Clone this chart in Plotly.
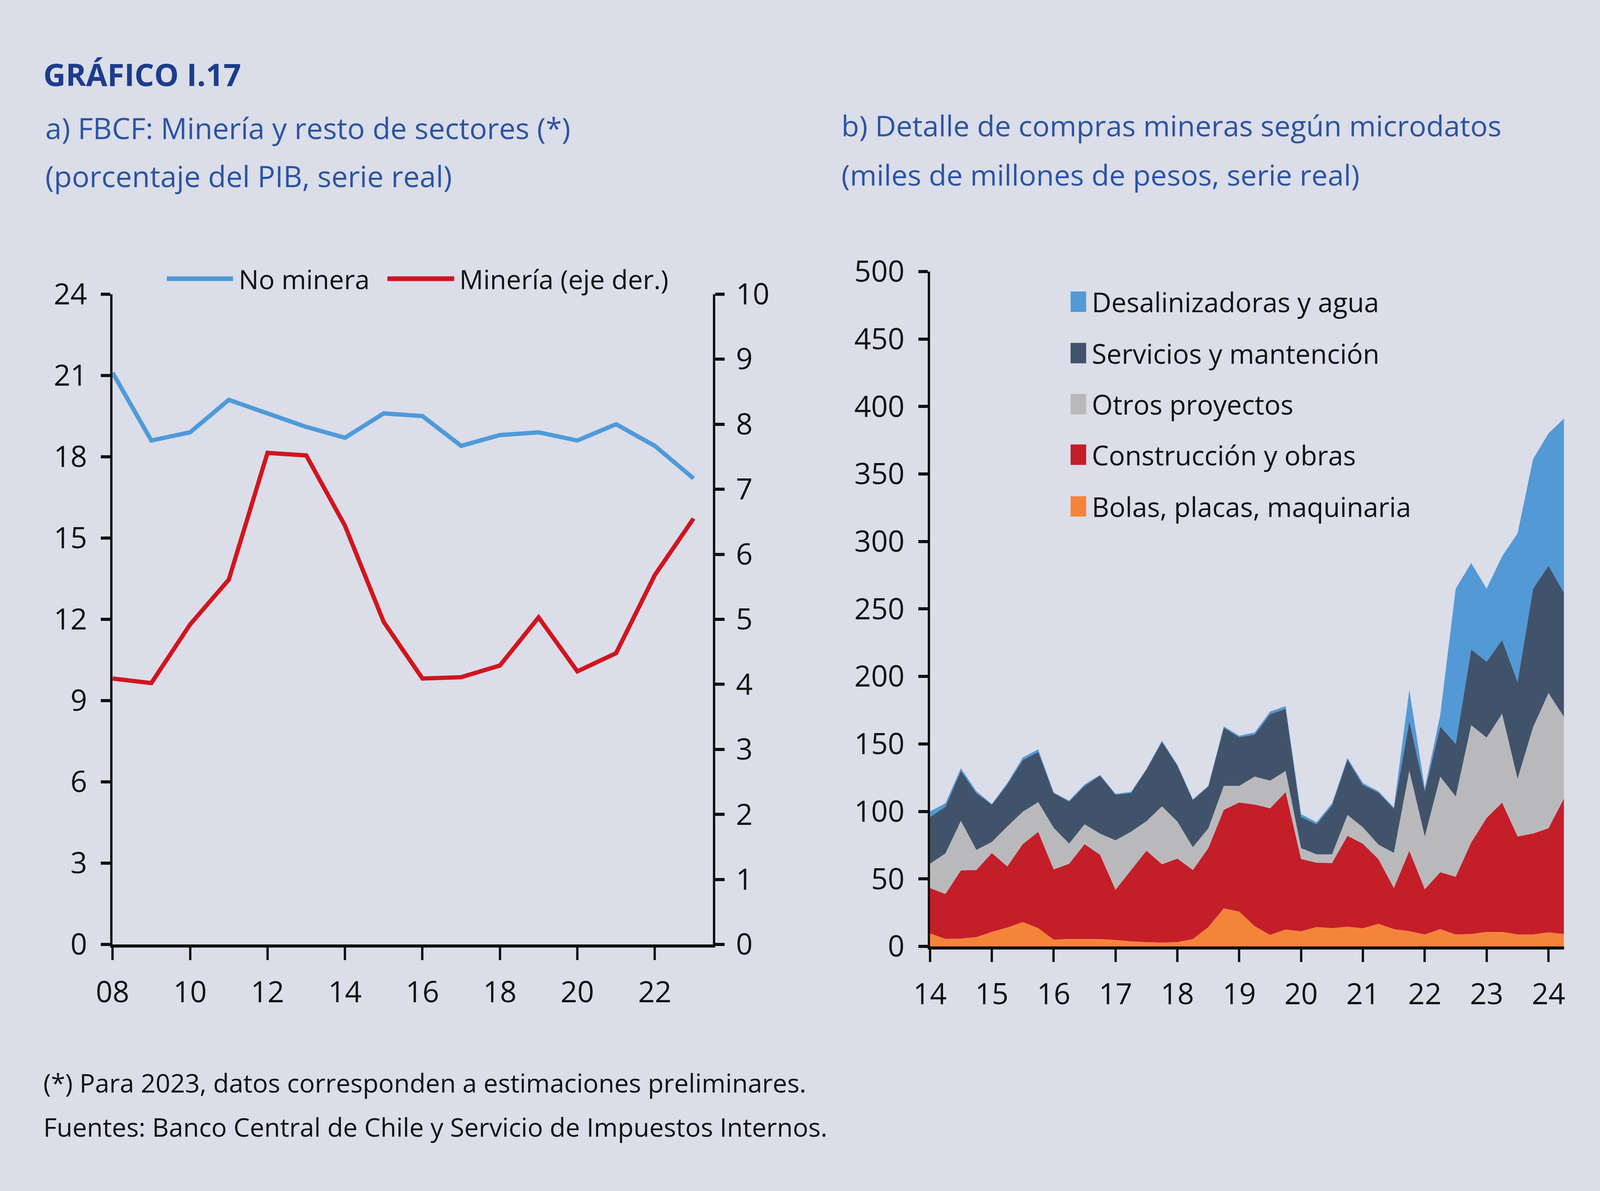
import plotly.graph_objects as go

# Reference geometry (positions given as fractions of the reference canvas)
RW, RH = 5400, 3048
W, H = 4096, 3048          # real browser viewport
BG = "#dbdde8"
FONT = "Open Sans"

# ---------------- Panel a data ----------------
years_a = list(range(2008, 2024))
no_minera = [21.1, 18.6, 18.9, 20.1, 19.6, 19.1, 18.7, 19.6, 19.5, 18.4, 18.8, 18.9, 18.6, 19.2, 18.4, 17.2]
mineria = [4.09, 4.02, 4.92, 5.61, 7.56, 7.52, 6.44, 4.96, 4.09, 4.11, 4.29, 5.03, 4.20, 4.48, 5.68, 6.55]
ticks_a_x = list(range(2008, 2023, 2))
ticks_a_left = list(range(0, 25, 3))
ticks_a_right = list(range(0, 11))

# ---------------- Panel b data ----------------
quarters = [f"{y}T{q}" for y in range(2014, 2025) for q in range(1, 5)][:42]
bolas = [9.7, 5.5, 5.8, 6.9, 10.8, 14.0, 18.0, 13.5, 5.0, 5.5, 5.5, 5.4, 4.8, 3.8, 3.2, 2.8, 3.2, 5.4, 14.3, 28.2,
         25.8, 15.0, 8.5, 12.5, 11.2, 14.3, 13.5, 14.6, 13.4, 16.8, 12.8, 11.3, 8.8, 12.8, 8.8, 9.2, 10.7, 10.7,
         8.8, 8.8, 10.4, 9.2]
construccion = [33.5, 33.4, 50.5, 49.7, 58.4, 45.2, 57.8, 71.3, 52.0, 55.7, 70.3, 62.4, 37.2, 52.8, 67.7, 58.1,
                61.9, 51.2, 58.5, 73.0, 80.8, 90.1, 93.8, 101.8, 53.6, 47.7, 48.2, 67.4, 62.6, 47.9, 30.5, 59.5,
                33.6, 42.1, 42.8, 67.7, 84.5, 95.8, 72.7, 74.8, 77.2, 100.4]
otros = [18.0, 30.0, 36.7, 14.9, 8.2, 29.7, 23.9, 22.1, 30.8, 15.0, 14.7, 15.7, 36.6, 28.4, 21.9, 42.9, 27.4, 16.9,
         14.6, 17.7, 12.3, 20.7, 20.5, 15.7, 8.0, 6.2, 6.5, 15.4, 12.2, 10.7, 26.0, 59.5, 39.1, 70.8, 59.5, 87.0,
         59.5, 65.9, 42.7, 78.7, 100.1, 60.4]
servicios = [34.6, 34.6, 37.0, 42.0, 27.6, 31.1, 38.3, 37.1, 25.7, 31.2, 28.4, 43.1, 33.9, 28.6, 38.2, 47.7, 41.5,
             35.0, 31.1, 43.1, 36.1, 31.2, 49.2, 46.0, 23.2, 22.3, 36.3, 41.1, 31.3, 38.6, 32.7, 36.7, 33.5, 37.3,
             38.9, 56.1, 56.3, 54.6, 71.8, 102.7, 94.3, 92.0]
desaliniz = [4.2, 2.5, 2.0, 1.5, 0.5, 1.0, 2.0, 2.0, 0.5, 0.6, 1.1, 0.4, 0.5, 0.9, 0.5, 1.0, 0.5, 0.5, 0.5, 1.0,
             1.0, 1.5, 2.0, 2.0, 2.0, 1.5, 1.5, 1.0, 1.5, 1.0, 1.0, 23.0, 2.0, 8.5, 115.0, 64.0, 54.0, 62.0,
             110.0, 96.0, 98.0, 129.0]
ticks_b_x = list(range(2014, 2025))
ticks_b_y = list(range(0, 501, 50))

x_b = [int(q[:4]) + (int(q[-1]) - 1) / 4 for q in quarters]

C_BLUE_LINE = "#4e9ad9"
C_RED_LINE = "#d0151f"
series_b = [
    ("Bolas, placas, maquinaria", bolas, "#f5843b"),
    ("Construcción y obras", construccion, "#c41e29"),
    ("Otros proyectos", otros, "#b9b9bb"),
    ("Servicios y mantención", servicios, "#41536b"),
    ("Desalinizadoras y agua", desaliniz, "#5299d6"),
]


def PX(x):  # reference x pixel -> paper fraction
    return x / RW


def PY(y):  # reference y pixel (from top) -> paper fraction
    return 1 - y / RH


fig = go.Figure()

fig.add_trace(go.Scatter(x=years_a, y=no_minera, mode="lines", name="No minera",
                         line=dict(color=C_BLUE_LINE, width=11), xaxis="x", yaxis="y", showlegend=False))
fig.add_trace(go.Scatter(x=years_a, y=mineria, mode="lines", name="Minería (eje der.)",
                         line=dict(color=C_RED_LINE, width=11), xaxis="x", yaxis="y2", showlegend=False))

for name, vals, col in series_b:
    fig.add_trace(go.Scatter(x=x_b, y=vals, mode="lines", name=name, stackgroup="b",
                             line=dict(width=0, color=col), fillcolor=col,
                             xaxis="x2", yaxis="y3", showlegend=False))

tickfont = dict(family=FONT, size=75, color="#111111")
x_common = dict(showline=True, linewidth=8, linecolor="#111111", ticks="outside", ticklen=32,
                tickwidth=6, tickcolor="#111111", showgrid=False, zeroline=False, tickfont=tickfont)
y_common = dict(showline=True, linewidth=6, linecolor="#111111", ticks="outside", ticklen=24,
                tickwidth=8, tickcolor="#111111", showgrid=False, zeroline=False, tickfont=tickfont)

fig.update_layout(
    width=W, height=H, autosize=False,
    margin=dict(l=0, r=0, t=0, b=0),
    paper_bgcolor=BG, plot_bgcolor=BG,
    font=dict(family=FONT, color="#111111"),
    showlegend=False,
    xaxis=dict(domain=[PX(327), PX(2376)], range=[2008, 2023.5], anchor="y",
               tickvals=ticks_a_x, ticktext=[f"{v % 100:02d}" for v in ticks_a_x],
               ticklabelstandoff=18, **x_common),
    yaxis=dict(domain=[PY(2445), PY(723)], range=[0, 24], anchor="x",
               tickvals=ticks_a_left, ticklabelstandoff=20, **y_common),
    yaxis2=dict(overlaying="y", side="right", range=[0, 10], anchor="x",
                tickvals=ticks_a_right, ticklabelstandoff=14, **y_common),
    xaxis2=dict(domain=[PX(3117), PX(5281)], range=[2014, 2024.25], anchor="y3",
                tickvals=ticks_b_x, ticktext=[f"{v % 100:02d}" for v in ticks_b_x],
                ticklabelstandoff=18, **x_common),
    yaxis3=dict(domain=[PY(2450), PY(663)], range=[0, 500], anchor="x2",
                tickvals=ticks_b_y, ticklabelstandoff=20, **y_common),
)


# ---------------- Texts ----------------
def txt(s, x_px, y_px, size, color="#111111", bold=False):
    fig.add_annotation(text=(f"<b>{s}</b>" if bold else s), x=PX(x_px), y=PY(y_px),
                       xref="paper", yref="paper", xanchor="left", yanchor="middle",
                       showarrow=False, font=dict(family=FONT, size=size, color=color))


TITLE_C = "#1c3c8c"
SUB_C = "#2a54a3"
txt("GRÁFICO I.17", 88, 140, 79, TITLE_C, bold=True)
txt("a) FBCF: Minería y resto de sectores (*)", 94, 282, 75, SUB_C)
txt("(porcentaje del PIB, serie real)", 94, 410, 75, SUB_C)
txt("b) Detalle de compras mineras según microdatos", 2812, 276, 74, SUB_C)
txt("(miles de millones de pesos, serie real)", 2812, 406, 74, SUB_C)
txt("(*) Para 2023, datos corresponden a estimaciones preliminares.", 88, 2810, 66)
txt("Fuentes: Banco Central de Chile y Servicio de Impuestos Internos.", 88, 2927, 66)

# ---------------- Legend panel a ----------------
for (x0, x1, col, label, xt) in [(512, 738, C_BLUE_LINE, "No minera", 754),
                                  (1265, 1493, C_RED_LINE, "Minería (eje der.)", 1508)]:
    fig.add_shape(type="line", xref="paper", yref="paper", x0=PX(x0), x1=PX(x1), y0=PY(682), y1=PY(682),
                  line=dict(color=col, width=12))
    txt(label, xt, 682, 68)

# ---------------- Legend panel b ----------------
rows_y = [743, 879, 1014, 1148, 1285]
for (name, vals, col), yy in zip(series_b[::-1], rows_y):
    fig.add_shape(type="rect", xref="paper", yref="paper",
                  x0=PX(3597), x1=PX(3650), y0=PY(yy + 27), y1=PY(yy - 27),
                  line=dict(width=0), fillcolor=col)
    txt(name, 3666, yy, 69)

fig.write_html("out.html", config={"displayModeBar": False},
               post_script="document.body.style.margin='0';")
